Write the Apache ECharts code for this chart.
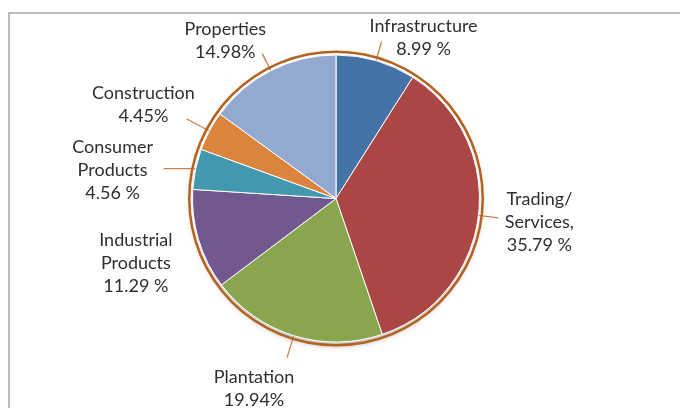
<!DOCTYPE html>
<html><head><meta charset="utf-8">
<script src="https://cdn.jsdelivr.net/npm/echarts@6/dist/echarts.min.js"></script>
<style>html,body{margin:0;padding:0;background:#fff}#c{width:680px;height:408px}</style>
</head><body><div id="c"></div>
<script>
// ---- data ----
const categories = ['Infrastructure', 'Trading/\nServices,', 'Plantation', 'Industrial\nProducts', 'Consumer\nProducts', 'Construction', 'Properties'];
const shares = [8.99, 35.79, 19.94, 11.29, 4.56, 4.45, 14.98];
const percentLabels = ['8.99 %', '35.79 %', '19.94%', '11.29 %', '4.56 %', '4.45%', '14.98%'];

// ---- styling ----
const colors = ['#4572A7', '#AA4643', '#89A54E', '#71588F', '#4198AF', '#DB843D', '#93A9CF'];
const lineShow = [true, true, true, false, true, true, true];
const lineLen = [20, 20, 23, 8, 2, 26, 19];
const lineLen2 = [0, 0, 0, 0, 30, 0, 0];
const labelShift = [[42, -4], [41, 4], [-33, 31], [-55, 21], [-51, 2], [-43, -14], [-37, -13]];
const CENTER = [336, 198.5];

const chart = echarts.init(document.getElementById('c'), null, {renderer: 'canvas'});
const sliceData = categories.map((n, i) => ({
  name: n,
  value: shares[i],
  itemStyle: {color: colors[i]},
  label: {formatter: n + '\n' + percentLabels[i]},
  labelLine: {show: lineShow[i], length: lineLen[i], length2: lineLen2[i]}
}));

chart.setOption({
  animation: false,
  backgroundColor: '#fff',
  graphic: [{
    type: 'rect', silent: true, z: 0,
    shape: {x: 9, y: 13, width: 720, height: 460},
    style: {fill: 'none', stroke: '#bdbdbd', lineWidth: 2}
  }],
  series: [
    {
      type: 'pie', silent: true, z: 1, center: CENTER, radius: [0, 146],
      label: {show: false}, labelLine: {show: false},
      data: [{value: 1, itemStyle: {
        color: {type: 'linear', x: 0, y: 0, x2: 0, y2: 1, colorStops: [
          {offset: 0, color: '#ffffff'}, {offset: 0.6, color: '#f2f2f2'}, {offset: 1, color: '#c8c8c8'}]},
        shadowBlur: 5, shadowOffsetY: 2, shadowColor: 'rgba(0,0,0,0.25)'}}]
    },
    {
      type: 'pie', z: 2, center: CENTER, radius: [0, 143.5],
      startAngle: 90, clockwise: true, avoidLabelOverlap: false,
      itemStyle: {borderColor: '#ffffff', borderWidth: 1},
      label: {show: true, position: 'outside', color: '#2f2f2f', fontFamily: 'Lato', fontSize: 18, lineHeight: 23, align: 'center'},
      labelLine: {show: true, smooth: false, lineStyle: {color: '#C8824C', width: 1.3}},
      labelLayout: function (p) {
        const pts = p.labelLinePoints;
        if (!pts) return {};
        const e = pts[pts.length - 1];
        const s = labelShift[p.dataIndex];
        return {x: e[0] + s[0], y: e[1] + s[1], align: 'center', verticalAlign: 'middle', labelLinePoints: pts};
      },
      emphasis: {disabled: true},
      data: sliceData
    },
    {
      type: 'pie', silent: true, z: 3, center: CENTER, radius: [145.5, 148],
      label: {show: false}, labelLine: {show: false},
      data: [{value: 1, itemStyle: {color: '#B5621E'}}]
    }
  ]
});
</script>
</body></html>
